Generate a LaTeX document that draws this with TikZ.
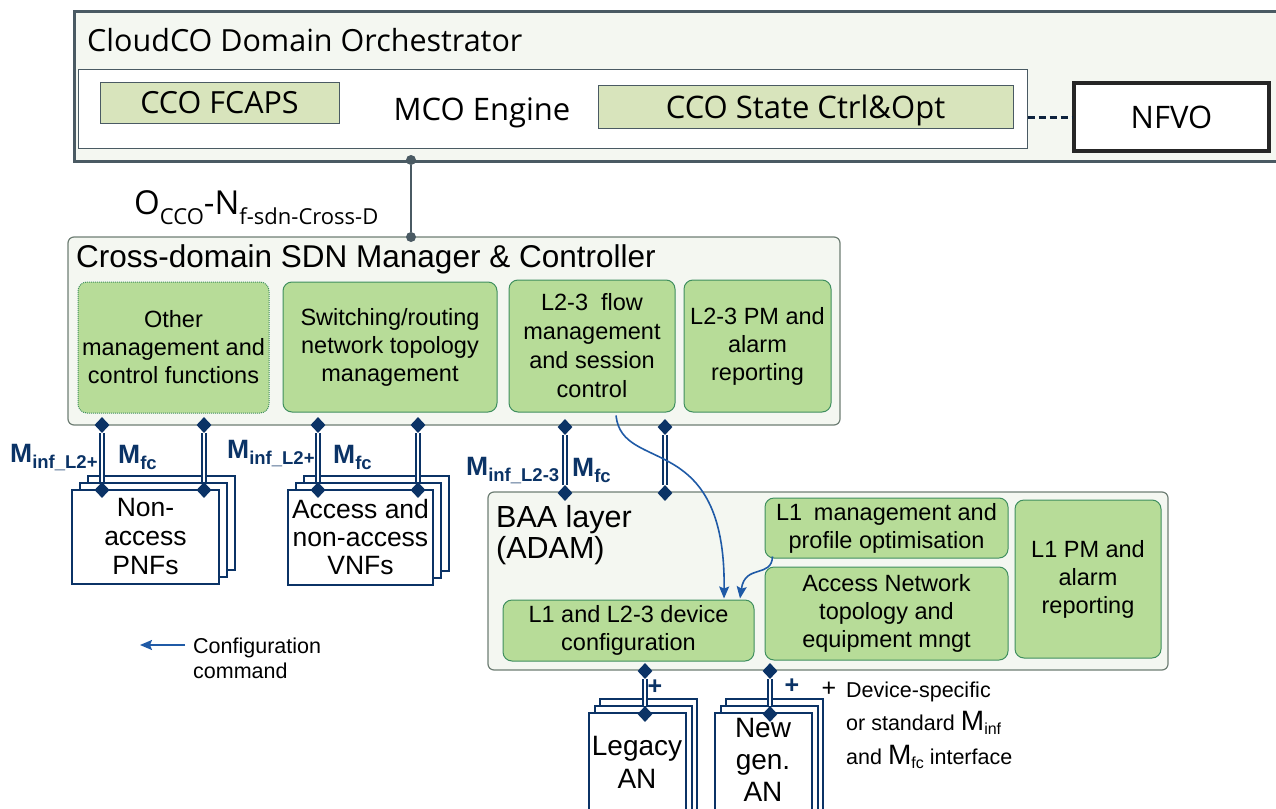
\documentclass[tikz,border=0pt]{standalone}
\usepackage{fontspec}
\setmainfont{Liberation Sans}
\newfontfamily\segfont{Open Sans}
\usetikzlibrary{shapes.geometric,arrows.meta,calc}
\definecolor{panel}{HTML}{F4F7F1}
\definecolor{slate}{HTML}{4A5A63}
\definecolor{olive}{HTML}{D8E4BC}
\definecolor{leaf}{HTML}{B7DC98}
\definecolor{leafline}{HTML}{3F8F5F}
\definecolor{navy}{HTML}{0B3366}
\definecolor{dashnavy}{HTML}{0D223D}
\definecolor{cmdblue}{HTML}{1F5AA6}
\definecolor{frame}{HTML}{6E7E74}
\newcommand\fsz[2]{\fontsize{#1}{#2}\selectfont}
\begin{document}
\begin{tikzpicture}[x=1pt,y=-1pt,
  wh/.style 2 args={minimum width=#1, minimum height=#2},
  olivebox/.style={draw=slate, fill=olive, line width=1pt, inner sep=0},
  leafbox/.style={draw=leafline, fill=leaf, rounded corners=9pt, line width=1pt,
    inner sep=0, align=center, font=\fsz{23.5}{28}},
  panelbox/.style={draw=frame, fill=panel, rounded corners=6pt, line width=1.2pt, inner sep=0},
  stackbox/.style={draw=navy, fill=white, line width=2pt, inner sep=0},
  dmd/.style={diamond, fill=navy, inner sep=0, minimum width=15pt, minimum height=16pt},
  link/.style={draw=navy, line width=1.5pt, double=white, double distance=2.5pt},
  cmd/.style={draw=cmdblue, line width=1.6pt, -{Stealth[length=12pt,width=10pt,inset=2pt]}},
  mlab/.style={text=navy, anchor=base west, inner sep=0},
  plus/.style={font=\bfseries\fsz{25}{25}, inner sep=0},
]
\useasboundingbox (0,0) rectangle (1276,808);
\clip (0,0) rectangle (1276,808);

% ---------- CloudCO domain orchestrator ----------
\node[draw=slate, fill=panel, line width=3pt, wh={1225}{150}, anchor=north west, inner sep=0] (cco) at (73,10) {};
\node[anchor=west, inner sep=0, font=\segfont\fsz{30.5}{30}] (ccotitle) at (87,40) {CloudCO Domain Orchestrator};
\node[draw=slate, fill=white, line width=1pt, wh={949}{79}, inner sep=0] (mco) at (552.5,108.5) {};
\node[olivebox, wh={239}{41}, font=\segfont\fsz{30.5}{30}] (fcaps) at (219.5,102.5) {CCO FCAPS};
\node[font=\segfont\fsz{31}{31}] (mcotxt) at (482,113) {MCO Engine};
\node[olivebox, wh={415}{43}] (state) at (805.5,106.5) {};
\node[font=\segfont\fsz{31}{31}, inner sep=0] (statetxt) at ($(state)+(0,4)$) {CCO State Ctrl\&Opt};
\node[draw=black!85, fill=white, line width=4pt, wh={195}{68}, inner sep=0, font=\segfont\fsz{31}{31}] (nfvo) at (1171.5,117) {NFVO};
\draw[dashnavy, line width=3pt, dash pattern=on 7pt off 4pt] (mco.east |- nfvo.west) -- (nfvo.west);

% ---------- Cross-domain SDN manager & controller ----------
\node[panelbox, wh={772}{188}] (cross) at (454,331) {};
\node[anchor=west, inner sep=0, font=\fsz{31.5}{31}] (crosstitle) at (76,259) {Cross-domain SDN Manager \& Controller};
\node[leafbox, densely dotted, wh={191}{131}] (other) at (173.5,347.5) {Other\\management and\\control functions};
\node[leafbox, wh={214}{130}] (switch) at (390,347) {Switching/routing\\network topology\\management};
\node[leafbox, wh={166}{132}, font=\fsz{23.5}{29}] (flow) at (592,346) {L2-3~ flow\\management\\and session\\control};
\node[leafbox, wh={147}{132}] (pm23) at (757.5,346) {L2-3 PM and\\alarm\\reporting};

% northbound interface
\node[circle, fill=slate, minimum size=10pt, inner sep=0] (nbtop) at (411,160) {};
\node[circle, fill=slate, minimum size=10pt, inner sep=0] (nbbot) at (411,237) {};
\draw[slate, line width=2.5pt] (nbtop) -- (nbbot);
\node[anchor=base west, inner sep=0, font=\segfont\fsz{33}{33}] (nblabel) at (134,214)
  {O\raisebox{-10pt}{\fsz{22}{22}CCO}-N\raisebox{-10pt}{\fsz{22}{22}f-sdn-Cross-D}};

% ---------- BAA layer ----------
\node[panelbox, wh={680}{178}] (baa) at (828,581) {};
\node[anchor=north west, align=left, inner sep=0, font=\fsz{30.5}{31}] (baatitle) at (496,505) {BAA layer\\(ADAM)};
\node[leafbox, wh={243}{60}] (l1m) at (886.5,528) {L1\enspace management and\\profile optimisation};
\node[leafbox, wh={243}{93}] (anet) at (886.5,613.5) {Access Network\\topology and\\equipment mngt};
\node[leafbox, wh={146}{158}] (l1pm) at (1088,579) {L1 PM and\\alarm\\reporting};
\node[leafbox, wh={251}{61}] (cfg) at (628.5,630.5) {L1 and L2-3 device\\configuration};

% ---------- network function stacks ----------
\foreach \nm/\cx/\cy/\w/\h in {pnf/145.5/537/147/94, vnf/360.5/537.5/145/95}{
  \node[stackbox, wh={\w}{\h}] (\nm3) at (\cx+16,\cy-14) {};
  \node[stackbox, wh={\w}{\h}] (\nm2) at (\cx+8,\cy-7) {};
}
\node[stackbox, wh={147}{94}, align=center, font=\fsz{26.5}{29}] (pnf) at (145.5,537) {Non-\\access\\PNFs};
\node[stackbox, wh={145}{95}, align=center, font=\fsz{26.5}{28}] (vnf) at (360.5,537.5) {Access and\\non-access\\VNFs};

\foreach \nm/\cx in {leg/637.5, ngn/763.5}{
  \node[stackbox, wh={97}{130}] (\nm3) at (\cx+11,778-14) {};
  \node[stackbox, wh={97}{130}] (\nm2) at (\cx+6,778-7) {};
  \node[stackbox, wh={97}{130}] (\nm) at (\cx,778) {};
}
\node[align=center, font=\fsz{28}{33}] (legtxt) at (637,762) {Legacy\\AN};
\node[align=center, font=\fsz{28}{32}] (ngntxt) at (763,760) {New\\gen.\\AN};

% ---------- management interfaces ----------
\foreach \nm/\x/\ya/\yb in {pa/102/425/490, pb/204/425/490, va/318/425/490, vb/418/425/490,
                           ba/565/427/493, bb/665/427/493, aa/645/671/714, ab/770/671/714}{
  \node[dmd] (\nm t) at (\x,\ya) {};
  \node[dmd] (\nm b) at (\x,\yb) {};
  \draw[link] (\nm t) -- (\nm b);
}

\node[mlab] (m1) at (10,462) {\fsz{26.5}{26}\bfseries M\raisebox{-6pt}{\fsz{18.5}{18}inf\_L2+}};
\node[mlab] (m2) at (118,463) {\fsz{26.5}{26}\bfseries M\raisebox{-6pt}{\fsz{18.5}{18}fc}};
\node[mlab] (m3) at (227,458) {\fsz{26.5}{26}\bfseries M\raisebox{-6pt}{\fsz{18.5}{18}inf\_L2+}};
\node[mlab] (m4) at (333,463) {\fsz{26.5}{26}\bfseries M\raisebox{-6pt}{\fsz{18.5}{18}fc}};
\node[mlab] (m5) at (466,475) {\fsz{26.5}{26}\bfseries M\raisebox{-6pt}{\fsz{18.5}{18}inf\_L2-3}};
\node[mlab] (m6) at (572,476) {\fsz{26.5}{26}\bfseries M\raisebox{-6pt}{\fsz{18.5}{18}fc}};

\node[plus, text=navy] (pl1) at (655,687) {+};
\node[plus, text=navy] (pl2) at (792,686) {+};

% ---------- configuration commands ----------
\coordinate (c1s) at ($(flow.south)+(24,3)$);
\coordinate (c1e) at ($(cfg.north)+(95.5,-1)$);
\draw[cmd] (c1s) .. controls +(6,59) and +(2,-170) .. (c1e);
\coordinate (c2s) at ($(l1m.south west)+(8,-2)$);
\coordinate (c2e) at ($(cfg.north)+(111.5,-1)$);
\draw[cmd] (c2s) .. controls +(-1,22) and +(5,-35) .. (c2e);

% ---------- legends ----------
\coordinate (lgs) at (185,645);
\coordinate (lge) at (140,645);
\draw[cmd] (lgs) -- (lge);
\node[anchor=west, align=left, inner sep=0, font=\fsz{21.5}{25}] (lgtxt) at (193,658) {Configuration\\command};

\node[plus, font=\fsz{25}{25}] (pl3) at (829,689) {+};
\node[anchor=west, align=left, inner sep=0, font=\fsz{21.5}{33.5}] (ifnote) at (846,725)
  {Device-specific\\or standard {\fsz{28}{28}M}\raisebox{-4pt}{\fsz{16}{16}inf}\\and {\fsz{28}{28}M}\raisebox{-4pt}{\fsz{16}{16}fc} interface};
\end{tikzpicture}
\end{document}
